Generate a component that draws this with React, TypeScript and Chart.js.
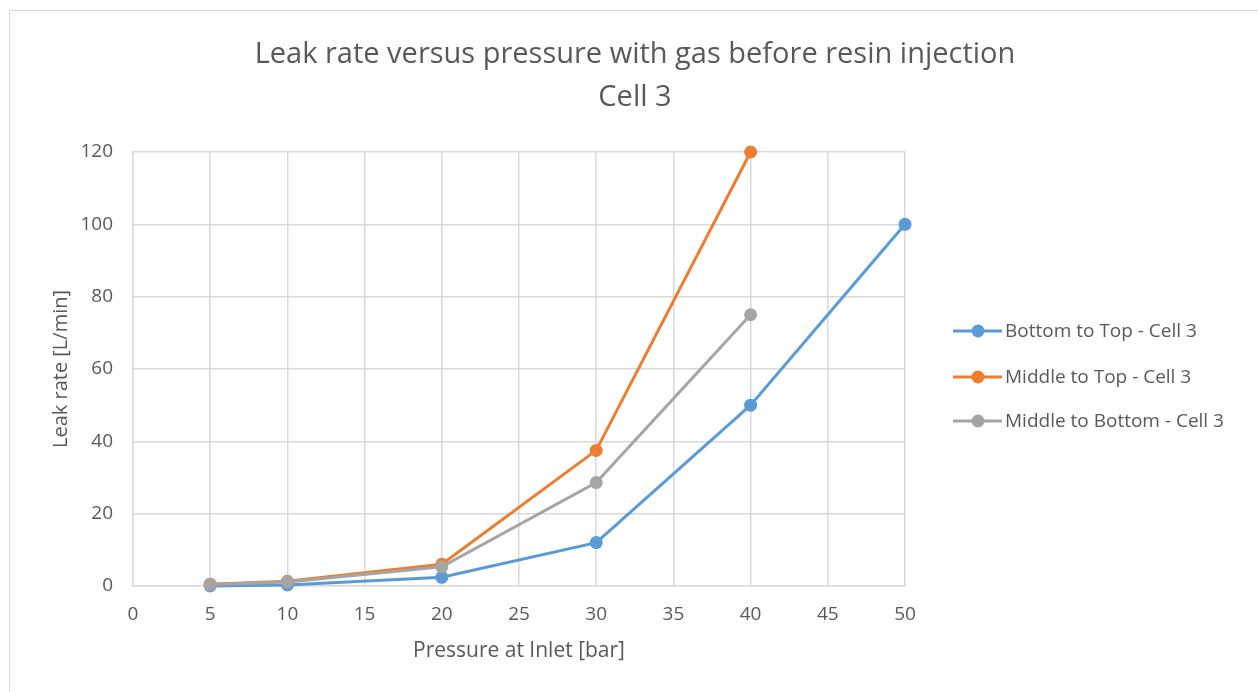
import React, { useEffect, useRef } from "react";
import { Chart, registerables } from "chart.js";

Chart.register(...registerables);

const TITLE_LINES = ["Leak rate versus pressure with gas before resin injection", "Cell 3"];
const X_TITLE = "Pressure at Inlet [bar]";
const Y_TITLE = "Leak rate [L/min]";

const SERIES_NAMES = ["Bottom to Top - Cell 3", "Middle to Top - Cell 3", "Middle to Bottom - Cell 3"];
const SERIES_COLORS = ["#5B9BD5", "#ED7D31", "#A5A5A5"];

const bottomToTopX = [5, 10, 20, 30, 40, 50];
const bottomToTopY = [0, 0.3, 2.4, 12, 50, 100];

const middleToTopX = [5, 10, 20, 30, 40];
const middleToTopY = [0.5, 1.3, 6, 37.5, 120];

const middleToBottomX = [5, 10, 20, 30, 40];
const middleToBottomY = [0.4, 1.1, 5.3, 28.6, 75];

const X_MIN = 0;
const X_MAX = 50;
const X_STEP = 5;
const Y_MIN = 0;
const Y_MAX = 120;
const Y_STEP = 20;

const FONT = "'Open Sans', 'Noto Sans', sans-serif";
const TEXT_COLOR = "#595959";
const GRID_COLOR = "#D9D9D9";

const toPoints = (xs: number[], ys: number[]) => xs.map((x, i) => ({ x, y: ys[i] }));

// Draws the two-line title and the right-hand legend (line + marker swatches)
const decorations = {
  id: "decorations",
  afterDraw(chart: any) {
    const ctx = chart.ctx as CanvasRenderingContext2D;
    ctx.save();
    ctx.fillStyle = TEXT_COLOR;
    ctx.textAlign = "center";
    ctx.textBaseline = "middle";
    ctx.font = `29px ${FONT}`;
    const cx = 635;
    ctx.fillText(TITLE_LINES[0], cx, 55);
    ctx.fillText(TITLE_LINES[1], cx, 98);

    ctx.font = `19px ${FONT}`;
    ctx.textAlign = "left";
    const ys = [331, 377, 421];
    SERIES_NAMES.forEach((name, i) => {
      const y = ys[i];
      ctx.strokeStyle = SERIES_COLORS[i];
      ctx.lineWidth = 3;
      ctx.beginPath();
      ctx.moveTo(953, y);
      ctx.lineTo(1002, y);
      ctx.stroke();
      ctx.fillStyle = SERIES_COLORS[i];
      ctx.beginPath();
      ctx.arc(978, y, 6.5, 0, Math.PI * 2);
      ctx.fill();
      ctx.fillStyle = TEXT_COLOR;
      ctx.fillText(name, 1005, y + 1);
    });
    ctx.restore();
  },
};

export default function App() {
  const canvasRef = useRef<HTMLCanvasElement | null>(null);

  useEffect(() => {
    if (!canvasRef.current) return;
    const seriesX = [bottomToTopX, middleToTopX, middleToBottomX];
    const seriesY = [bottomToTopY, middleToTopY, middleToBottomY];
    const drawOrder = [2, 1, 0];

    const chart = new Chart(canvasRef.current, {
      type: "line",
      data: {
        datasets: SERIES_NAMES.map((label, i) => ({
          label,
          data: toPoints(seriesX[i], seriesY[i]),
          borderColor: SERIES_COLORS[i],
          backgroundColor: SERIES_COLORS[i],
          pointBackgroundColor: SERIES_COLORS[i],
          pointBorderColor: SERIES_COLORS[i],
          pointRadius: 6.5,
          pointBorderWidth: 0,
          borderWidth: 3,
          tension: 0,
          fill: false,
          order: drawOrder[i],
          clip: false as any,
        })),
      },
      options: {
        animation: false,
        responsive: false,
        maintainAspectRatio: false,
        layout: { padding: { left: 0, top: 152, right: 353, bottom: 0 } },
        plugins: {
          legend: { display: false },
          title: { display: false },
          tooltip: { enabled: false },
        },
        scales: {
          x: {
            type: "linear",
            min: X_MIN,
            max: X_MAX,
            afterFit: (s: any) => {
              s.height = 106;
            },
            grid: { color: GRID_COLOR, lineWidth: 1.5, drawTicks: false },
            border: { color: GRID_COLOR, width: 1.5 },
            ticks: {
              stepSize: X_STEP,
              padding: 17,
              color: TEXT_COLOR,
              font: { family: FONT, size: 19 },
              maxRotation: 0,
            },
            title: {
              display: true,
              text: X_TITLE,
              color: TEXT_COLOR,
              font: { family: FONT, size: 21 },
              padding: { top: 0, bottom: 28 },
            },
          },
          y: {
            type: "linear",
            min: Y_MIN,
            max: Y_MAX,
            afterFit: (s: any) => {
              s.width = 133;
            },
            grid: { color: GRID_COLOR, lineWidth: 1.5, drawTicks: false },
            border: { color: GRID_COLOR, width: 1.5 },
            ticks: {
              stepSize: Y_STEP,
              padding: 20,
              color: TEXT_COLOR,
              font: { family: FONT, size: 19 },
            },
            title: {
              display: true,
              text: Y_TITLE,
              color: TEXT_COLOR,
              font: { family: FONT, size: 20 },
              padding: { top: 49, bottom: 0 },
            },
          },
        },
      },
      plugins: [decorations],
    });
    return () => chart.destroy();
  }, []);

  return (
    <div style={{ position: "fixed", left: 0, top: 0, width: 1258, height: 692, background: "#fff", overflow: "hidden" }}>
      <div
        style={{
          position: "absolute",
          left: 9,
          top: 10,
          width: 1300,
          height: 800,
          border: "1.5px solid #D9D9D9",
          boxSizing: "border-box",
        }}
      />
      <canvas ref={canvasRef} width={1258} height={692} style={{ position: "absolute", left: 0, top: 0 }} />
    </div>
  );
}
